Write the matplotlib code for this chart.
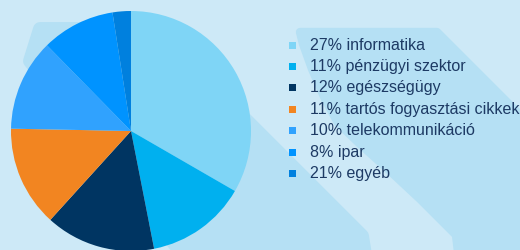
import matplotlib
matplotlib.use("Agg")
import matplotlib.pyplot as plt
from matplotlib.path import Path
from matplotlib.patches import PathPatch, Rectangle

# ---- data ----
sectors = ["informatika", "pénzügyi szektor", "egészségügy",
           "tartós fogyasztási cikkek", "telekommunikáció", "ipar", "egyéb"]
slice_values = [27, 11, 12, 11, 10, 8, 2]
legend_pct = [27, 11, 12, 11, 10, 8, 21]
colors = ["#7fd5f6", "#00b0ef", "#003562", "#f28521", "#30a2fe", "#0093ff", "#0080de"]

W, H = 520, 251
BG = "#cde9f7"
BAND = "#b5e0f4"
TEXT = "#1d3a64"

fig = plt.figure(figsize=(W / 100, H / 100), dpi=100, facecolor=BG)

def fp(pts):
    return [(x / W, 1 - y / H) for x, y in pts]

def band(pts, lw=8):
    verts = fp(pts) + [fp(pts[:1])[0]]
    codes = [Path.MOVETO] + [Path.LINETO] * (len(pts) - 1) + [Path.CLOSEPOLY]
    p = PathPatch(Path(verts, codes), facecolor=BAND, edgecolor=BAND, lw=lw,
                  joinstyle="round", transform=fig.transFigure, zorder=-5)
    fig.patches.append(p)

# decorative background bands
band([(40, 30), (155, 30), (362, 237), (366, 262), (188, 262), (30, 62)], lw=10)
band([(300, 33), (437, 33), (525, 121), (525, 262), (459, 262), (456, 236),
      (420, 200), (390, 172), (360, 145), (338, 124), (325, 100), (312, 70), (303, 45)], lw=6)

# pie
ax = fig.add_axes([11 / W, (H - 132 - 120) / H, 240 / W, 240 / H])
ax.set_zorder(2)
wedges, _ = ax.pie(slice_values, colors=colors, startangle=90, counterclock=False,
                   wedgeprops=dict(linewidth=0))
ax.set_xlim(-1, 1)
ax.set_ylim(-1, 1)
ax.axis("off")

# legend
x_mark, x_text = 289, 310
base0, dy = 49.5, 21.4
for i, (pct, name, col) in enumerate(zip(legend_pct, sectors, colors)):
    yb = base0 + i * dy
    fig.patches.append(Rectangle(((x_mark) / W, 1 - yb / H), 6.8 / W, 7 / H,
                                 transform=fig.transFigure, facecolor=col,
                                 edgecolor="none", zorder=3))
    fig.text(x_text / W, 1 - yb / H, f"{pct}% {name}", color=TEXT,
             fontsize=11.5, family="Liberation Sans", va="baseline", ha="left", zorder=4)

fig.savefig("out.png", dpi=100, facecolor=BG)
